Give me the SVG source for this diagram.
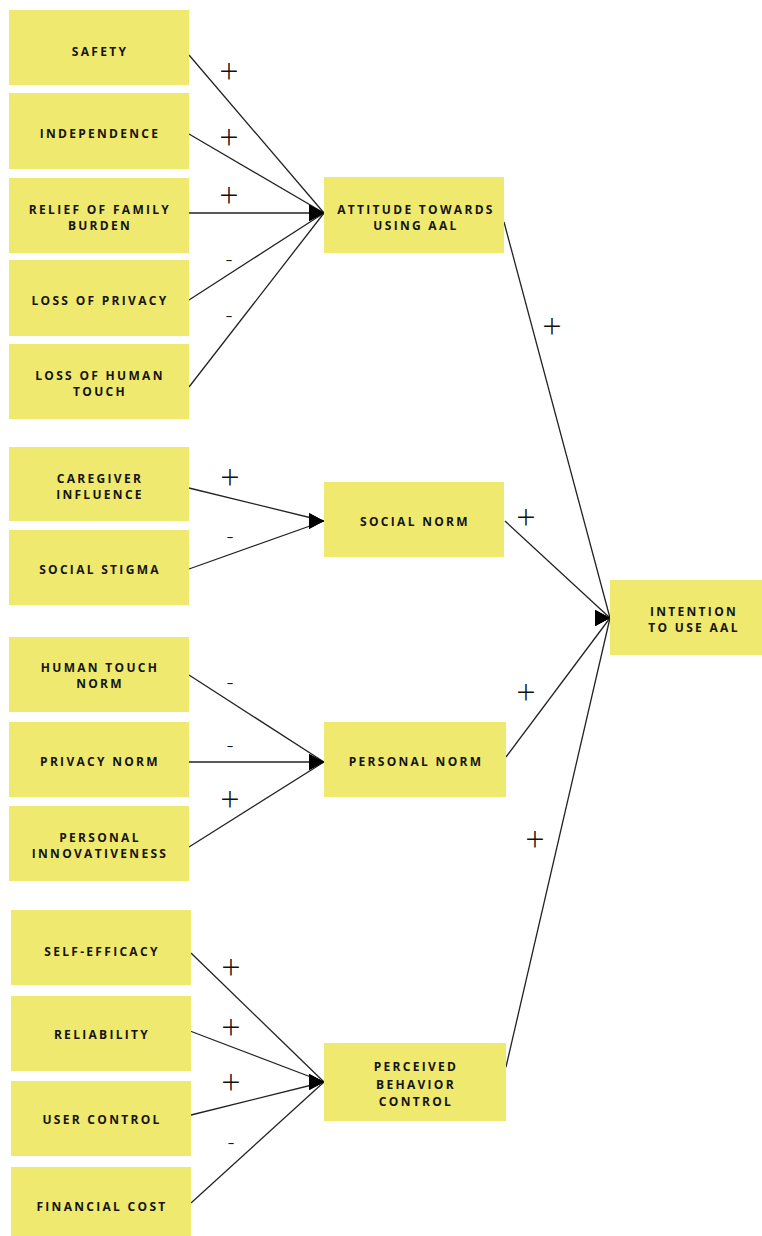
<svg xmlns="http://www.w3.org/2000/svg" width="762" height="1236" viewBox="0 0 762 1236">
<style>
.box{fill:#efe96f;}
.t{font-family:"Open Sans","Liberation Sans",sans-serif;font-size:12px;font-weight:bold;letter-spacing:2.3px;fill:#141414;text-anchor:middle;}
.c{stroke:#222;stroke-width:1.3;fill:none;marker-end:url(#arr);}
.p{font-family:"Open Sans","Liberation Sans",sans-serif;font-size:34px;font-weight:300;fill:#111;text-anchor:middle;}
.m{font-family:"Open Sans","Liberation Sans",sans-serif;font-size:22px;font-weight:300;fill:#111;text-anchor:middle;}
</style>
<defs>
<marker id="arr" markerUnits="userSpaceOnUse" markerWidth="16" markerHeight="18" refX="15" refY="8" orient="0">
<path d="M0,0 L15,8 L0,16 z" fill="#000"/>
</marker>
</defs>
<rect width="762" height="1236" fill="#fff"/>
<g id="connectors">
<line class="c" x1="189" y1="55" x2="324" y2="213"/>
<line class="c" x1="189" y1="134" x2="324" y2="213"/>
<line class="c" x1="189" y1="213" x2="324" y2="213"/>
<line class="c" x1="189" y1="300" x2="324" y2="213"/>
<line class="c" x1="189" y1="387" x2="324" y2="213"/>
<line class="c" x1="189" y1="488" x2="324" y2="521"/>
<line class="c" x1="189" y1="569" x2="324" y2="521"/>
<line class="c" x1="189" y1="675" x2="324" y2="762"/>
<line class="c" x1="189" y1="762" x2="324" y2="762"/>
<line class="c" x1="189" y1="847" x2="324" y2="762"/>
<line class="c" x1="191" y1="953" x2="324" y2="1082"/>
<line class="c" x1="190" y1="1031" x2="324" y2="1082"/>
<line class="c" x1="191" y1="1115" x2="324" y2="1082"/>
<line class="c" x1="191" y1="1203" x2="324" y2="1082"/>
<line class="c" x1="504" y1="222" x2="610" y2="618"/>
<line class="c" x1="505" y1="521" x2="610" y2="618"/>
<line class="c" x1="506" y1="757" x2="610" y2="618"/>
<line class="c" x1="506" y1="1067" x2="610" y2="618"/>
</g>
<g id="labels">
<text class="p" x="229" y="84">+</text>
<text class="p" x="229" y="150">+</text>
<text class="p" x="229" y="208">+</text>
<text class="m" x="229" y="267">-</text>
<text class="m" x="229" y="323">-</text>
<text class="p" x="230" y="490">+</text>
<text class="m" x="230" y="544">-</text>
<text class="m" x="230" y="690">-</text>
<text class="m" x="230" y="753">-</text>
<text class="p" x="230" y="812">+</text>
<text class="p" x="231" y="980">+</text>
<text class="p" x="231" y="1040">+</text>
<text class="p" x="231" y="1095">+</text>
<text class="m" x="231" y="1150">-</text>
<text class="p" x="552" y="339">+</text>
<text class="p" x="526" y="530">+</text>
<text class="p" x="526" y="705">+</text>
<text class="p" x="535" y="852">+</text>
</g>
<g id="safety"><rect class="box" x="9" y="10" width="180" height="75"/><text class="t" x="100" y="56">SAFETY</text></g>
<g id="independence"><rect class="box" x="9" y="93" width="180" height="76"/><text class="t" x="100" y="138">INDEPENDENCE</text></g>
<g id="relief"><rect class="box" x="9" y="178" width="180" height="75"/><text class="t" x="100" y="214">RELIEF OF FAMILY</text><text class="t" x="100" y="230">BURDEN</text></g>
<g id="loss-privacy"><rect class="box" x="9" y="260" width="180" height="76"/><text class="t" x="100" y="305">LOSS OF PRIVACY</text></g>
<g id="loss-touch"><rect class="box" x="9" y="344" width="180" height="75"/><text class="t" x="100" y="380">LOSS OF HUMAN</text><text class="t" x="100" y="396">TOUCH</text></g>
<g id="caregiver"><rect class="box" x="9" y="447" width="180" height="74"/><text class="t" x="100" y="483">CAREGIVER</text><text class="t" x="100" y="499">INFLUENCE</text></g>
<g id="stigma"><rect class="box" x="9" y="530" width="180" height="75"/><text class="t" x="100" y="574">SOCIAL STIGMA</text></g>
<g id="touch-norm"><rect class="box" x="9" y="637" width="180" height="75"/><text class="t" x="100" y="672">HUMAN TOUCH</text><text class="t" x="100" y="688">NORM</text></g>
<g id="privacy-norm"><rect class="box" x="9" y="722" width="180" height="75"/><text class="t" x="100" y="766">PRIVACY NORM</text></g>
<g id="innovativeness"><rect class="box" x="9" y="806" width="180" height="75"/><text class="t" x="100" y="842">PERSONAL</text><text class="t" x="100" y="858">INNOVATIVENESS</text></g>
<g id="self-efficacy"><rect class="box" x="11" y="910" width="180" height="75"/><text class="t" x="102" y="956">SELF-EFFICACY</text></g>
<g id="reliability"><rect class="box" x="11" y="996" width="180" height="75"/><text class="t" x="102" y="1039">RELIABILITY</text></g>
<g id="user-control"><rect class="box" x="11" y="1081" width="180" height="75"/><text class="t" x="102" y="1124">USER CONTROL</text></g>
<g id="financial-cost"><rect class="box" x="11" y="1167" width="180" height="69"/><text class="t" x="102" y="1211">FINANCIAL COST</text></g>
<g id="attitude"><rect class="box" x="324" y="177" width="180" height="76"/><text class="t" x="416" y="214">ATTITUDE TOWARDS</text><text class="t" x="416" y="230">USING AAL</text></g>
<g id="social-norm"><rect class="box" x="324" y="482" width="180" height="75"/><text class="t" x="415" y="526">SOCIAL NORM</text></g>
<g id="personal-norm"><rect class="box" x="324" y="722" width="182" height="75"/><text class="t" x="416" y="766">PERSONAL NORM</text></g>
<g id="pbc"><rect class="box" x="324" y="1043" width="182" height="78"/><text class="t" x="416" y="1071">PERCEIVED</text><text class="t" x="416" y="1089">BEHAVIOR</text><text class="t" x="416" y="1106">CONTROL</text></g>
<g id="intention"><rect class="box" x="610" y="580" width="152" height="75"/><text class="t" x="694" y="616">INTENTION</text><text class="t" x="694" y="632">TO USE AAL</text></g>
</svg>
